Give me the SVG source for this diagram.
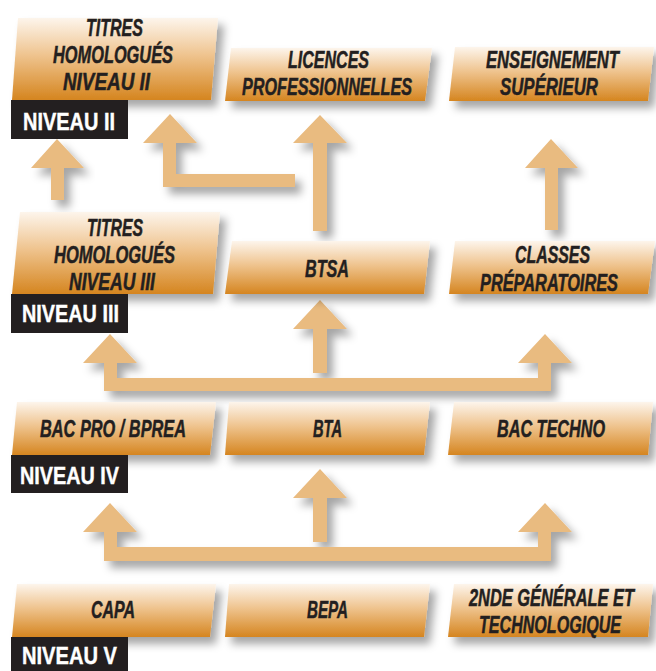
<svg xmlns="http://www.w3.org/2000/svg" width="656" height="671" viewBox="0 0 656 671">
<defs>
<linearGradient id="g" x1="0" y1="0" x2="0" y2="1">
<stop offset="0" stop-color="#fdf5ec"/>
<stop offset="0.45" stop-color="#efc48f"/>
<stop offset="1" stop-color="#d5851f"/>
</linearGradient>
<filter id="sh" x="-10%" y="-10%" width="130%" height="140%">
<feDropShadow dx="6" dy="7" stdDeviation="4" flood-color="#000" flood-opacity="0.35"/>
</filter>
<style>
.box{fill:url(#g);filter:url(#sh)}
.arr{fill:#e9bb80;filter:url(#sh)}
.t{font-family:"Liberation Sans Narrow","Liberation Sans",Arial,sans-serif;font-weight:bold;font-style:italic;font-size:23.5px;fill:#231f20;stroke:#231f20;stroke-width:0.5px}
.m{text-anchor:middle}
.lb{fill:#231f20}
.lt{font-family:"Liberation Sans Narrow","Liberation Sans",Arial,sans-serif;font-weight:bold;font-size:24px;fill:#fff;stroke:#fff;stroke-width:0.4px}
</style>
</defs>
<rect width="656" height="671" fill="#fff"/>
<g id="connectors">
<polygon class="arr" points="57,139 84,168 64,168 64,200 51,200 51,168 31,168"/>
<polygon class="arr" points="170,114 197,143 176,143 176,174 295,174 295,187 163,187 163,143 143,143"/>
<polygon class="arr" points="320,115 347,143 327,143 327,231 313,231 313,143 293,143"/>
<polygon class="arr" points="551,139 578,168 558,168 558,230 545,230 545,168 525,168"/>
<polygon class="arr" points="320,300 347,329 327,329 327,373 313,373 313,329 293,329"/>
<polygon class="arr" points="110,334 137,363 117,363 117,378 538,378 538,363 518,363 545,334 572,363 551,363 551,391 104,391 104,363 83,363"/>
<polygon class="arr" points="320,469 347,498 327,498 327,542 313,542 313,498 293,498"/>
<polygon class="arr" points="110,503 137,532 117,532 117,547 538,547 538,532 518,532 545,503 572,532 551,532 551,561 104,561 104,532 83,532"/>
</g>
<g id="titres2">
<polygon class="box" points="18,18 218,18 211,100 12,100"/>
<text class="t" x="86" y="36" textLength="57" lengthAdjust="spacingAndGlyphs">TITRES</text>
<text class="t" x="53" y="63" textLength="120" lengthAdjust="spacingAndGlyphs">HOMOLOGUÉS</text>
<text class="t" x="63" y="90" textLength="87" lengthAdjust="spacingAndGlyphs">NIVEAU II</text>
</g>
<g id="niveau2">
<rect class="lb" x="11" y="100" width="117" height="39"/>
<text class="lt" x="23" y="130" textLength="92" lengthAdjust="spacingAndGlyphs">NIVEAU II</text>
</g>
<g id="licences">
<polygon class="box" points="231,48 432,48 425,101 225,101"/>
<text class="t" x="288" y="68" textLength="81" lengthAdjust="spacingAndGlyphs">LICENCES</text>
<text class="t" x="242" y="95" textLength="170" lengthAdjust="spacingAndGlyphs">PROFESSIONNELLES</text>
</g>
<g id="superieur">
<polygon class="box" points="455,47 654,47 648,101 449,101"/>
<text class="t m" x="552.5" y="68" textLength="133" lengthAdjust="spacingAndGlyphs">ENSEIGNEMENT</text>
<text class="t m" x="549" y="95" textLength="98" lengthAdjust="spacingAndGlyphs">SUPÉRIEUR</text>
</g>
<g id="titres3">
<polygon class="box" points="20,212 220,212 213,294 12,294"/>
<text class="t" x="87" y="236" textLength="56" lengthAdjust="spacingAndGlyphs">TITRES</text>
<text class="t" x="54" y="263" textLength="121" lengthAdjust="spacingAndGlyphs">HOMOLOGUÉS</text>
<text class="t" x="69" y="290" textLength="86" lengthAdjust="spacingAndGlyphs">NIVEAU III</text>
</g>
<g id="niveau3">
<rect class="lb" x="11" y="294" width="117" height="39"/>
<text class="lt" x="22" y="322" textLength="97" lengthAdjust="spacingAndGlyphs">NIVEAU III</text>
</g>
<g id="btsa">
<polygon class="box" points="232,241 430,241 424,294 225,294"/>
<text class="t" x="305" y="277" textLength="44" lengthAdjust="spacingAndGlyphs">BTSA</text>
</g>
<g id="classes">
<polygon class="box" points="455,241 655,241 648,294 449,294"/>
<text class="t m" x="552.5" y="263" textLength="75" lengthAdjust="spacingAndGlyphs">CLASSES</text>
<text class="t m" x="549" y="291" textLength="138" lengthAdjust="spacingAndGlyphs">PRÉPARATOIRES</text>
</g>
<g id="bacpro">
<polygon class="box" points="17,402 216,402 210,455 12,455"/>
<text class="t" x="40" y="437" textLength="146" lengthAdjust="spacingAndGlyphs">BAC PRO / BPREA</text>
</g>
<g id="bta">
<polygon class="box" points="229,402 430,402 424,455 225,455"/>
<text class="t" x="313" y="437" textLength="29" lengthAdjust="spacingAndGlyphs">BTA</text>
</g>
<g id="bactechno">
<polygon class="box" points="454,402 653,402 648,455 448,455"/>
<text class="t m" x="551" y="437" textLength="108" lengthAdjust="spacingAndGlyphs">BAC TECHNO</text>
</g>
<g id="niveau4">
<rect class="lb" x="11" y="455" width="117" height="38"/>
<text class="lt" x="20" y="484" textLength="99" lengthAdjust="spacingAndGlyphs">NIVEAU IV</text>
</g>
<g id="capa">
<polygon class="box" points="17,584 216,584 210,637 12,637"/>
<text class="t" x="91" y="618" textLength="44" lengthAdjust="spacingAndGlyphs">CAPA</text>
</g>
<g id="bepa">
<polygon class="box" points="229,584 430,584 424,637 225,637"/>
<text class="t" x="307" y="618" textLength="41" lengthAdjust="spacingAndGlyphs">BEPA</text>
</g>
<g id="seconde">
<polygon class="box" points="454,584 653,584 648,637 448,637"/>
<text class="t m" x="551.5" y="606" textLength="165" lengthAdjust="spacingAndGlyphs">2NDE GÉNÉRALE ET</text>
<text class="t m" x="550" y="633" textLength="142" lengthAdjust="spacingAndGlyphs">TECHNOLOGIQUE</text>
</g>
<g id="niveau5">
<rect class="lb" x="11" y="637" width="117" height="34"/>
<text class="lt" x="22" y="664" textLength="95" lengthAdjust="spacingAndGlyphs">NIVEAU V</text>
</g>
</svg>
